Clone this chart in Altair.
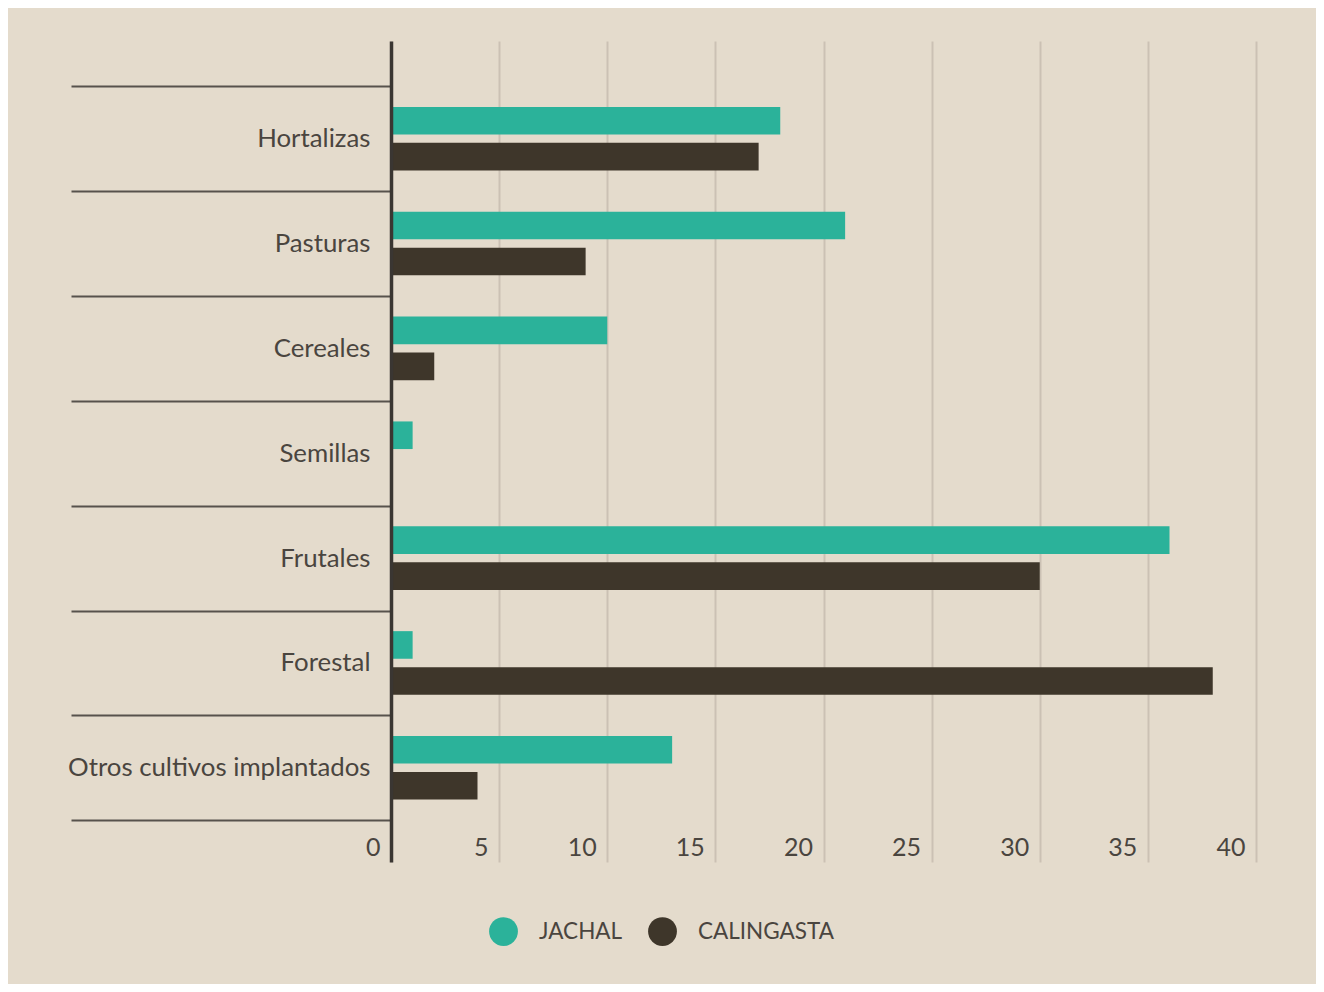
import altair as alt
import pandas as pd

categories = ["Hortalizas", "Pasturas", "Cereales", "Semillas", "Frutales",
              "Forestal", "Otros cultivos implantados"]
series = ["JACHAL", "CALINGASTA"]
jachal = [18, 21, 10, 1, 36, 1, 13]
calingasta = [17, 9, 2, 0, 30, 38, 4]
x_ticks = [0, 5, 10, 15, 20, 25, 30, 35, 40]
colors = ["#2bb29a", "#3e362a"]

rows = []
for c, j, k in zip(categories, jachal, calingasta):
    rows.append({"categoria": c, "serie": "JACHAL", "valor": j})
    rows.append({"categoria": c, "serie": "CALINGASTA", "valor": k})
df = pd.DataFrame(rows)

FONT = "Lato"
TEXT = "#4a453f"

bars = alt.Chart(df).mark_bar().encode(
    x=alt.X(
        "valor:Q",
        scale=alt.Scale(domain=[0, 40], nice=False),
        axis=alt.Axis(
            values=x_ticks, grid=True, gridColor="#cbc1b4", gridWidth=2,
            domain=False, ticks=False, title=None,
            labelAlign="right", labelOffset=-11, labelBaseline="alphabetic",
            labelPadding=-7, labelFontSize=25, labelFont=FONT, labelColor=TEXT,
            labelFlush=False,
        ),
    ),
    y=alt.Y(
        "categoria:N",
        sort=categories,
        scale=alt.Scale(domain=categories, paddingInner=0, paddingOuter=0.415, align=0.52),
        axis=alt.Axis(
            orient="left", title=None, tickBand="extent", tickSize=320,
            tickWidth=2, tickColor="#57524c", domainColor="#3a3632",
            domainWidth=3.5, labelPadding=-299, labelFontSize=25.8,
            labelFont=FONT, labelColor=TEXT, labelLimit=400, zindex=1,
        ),
    ),
    yOffset=alt.YOffset(
        "serie:N", sort=series,
        scale=alt.Scale(domain=series, paddingInner=0.233, paddingOuter=0.573),
    ),
    color=alt.Color(
        "serie:N",
        scale=alt.Scale(domain=series, range=colors),
        legend=alt.Legend(
            title=None, orient="none", legendX=98, legendY=876,
            direction="horizontal", symbolType="circle", symbolSize=830,
            symbolStrokeWidth=0, symbolOpacity=1, labelFontSize=22.5,
            labelFont=FONT, labelColor=TEXT, labelOffset=21,
            columnPadding=25, padding=0,
        ),
    ),
)

chart = bars.properties(
    width=865,
    height=821,
    padding={"left": 383, "top": 33, "right": 60, "bottom": 122},
    autosize=alt.AutoSizeParams(type="none"),
).configure(
    background="#e4dbcc",
).configure_view(stroke=None)

chart.save("out.html", embed_options={"renderer": "svg", "actions": False})
